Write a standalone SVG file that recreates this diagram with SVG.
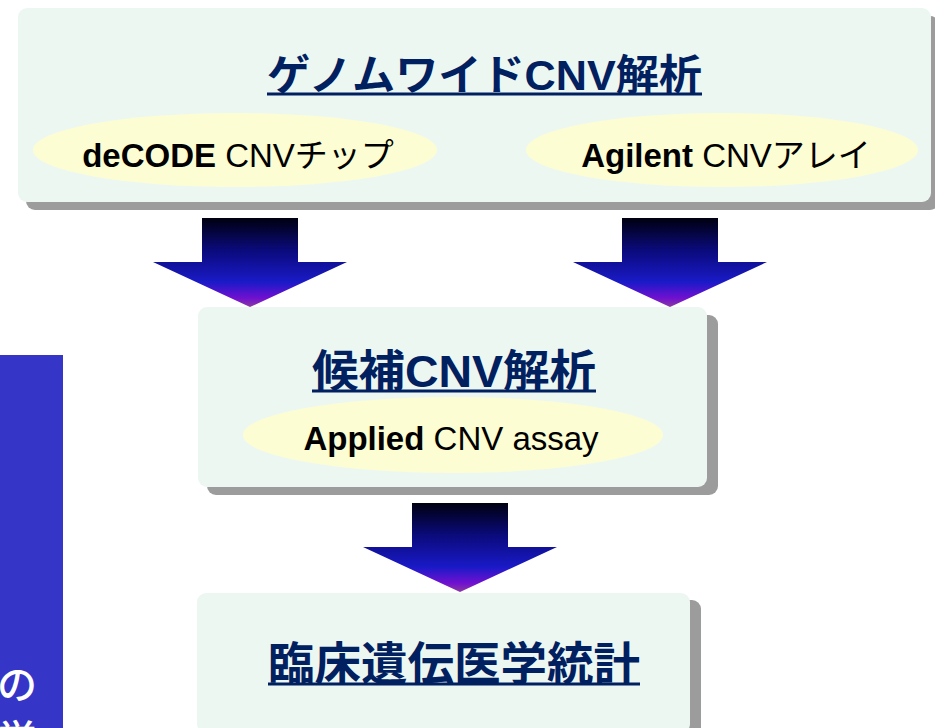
<svg xmlns="http://www.w3.org/2000/svg" width="935" height="728" viewBox="0 0 935 728">
  <defs>
    <linearGradient id="arrowGrad" x1="0" y1="0" x2="0" y2="1">
      <stop offset="0" stop-color="#000010"/>
      <stop offset="0.35" stop-color="#0a0a78"/>
      <stop offset="0.72" stop-color="#1a1ac8"/>
      <stop offset="0.9" stop-color="#7010d0"/>
      <stop offset="1" stop-color="#8a3aa0"/>
    </linearGradient>
    <style>
      .shadow { fill: #9c9c9c; }
      .box { fill: #edf7f2; }
      .oval { fill: #fdfdd3; }
      .title { font-family: "Liberation Sans", "Noto Sans CJK JP", sans-serif; font-weight: bold; fill: #002060; }
      .uline { stroke: #002060; stroke-width: 3; }
      .label { font-family: "Liberation Sans", "Noto Sans CJK JP", sans-serif; font-size: 33px; fill: #000; }
      .b { font-weight: bold; }
      .arrow { fill: url(#arrowGrad); }
      .side { font-family: "Noto Sans CJK JP", sans-serif; font-size: 40px; font-weight: 500; fill: #ffffff; }
    </style>
  </defs>

  <g id="side-panel">
    <rect x="0" y="355" width="63" height="380" fill="#3535c8"/>
    <text class="side" x="-3" y="699">の</text>
    <text class="side" x="-3" y="754">学</text>
  </g>

  <g id="node-genome">
    <rect class="shadow" x="26" y="16" width="913" height="194" rx="9"/>
    <rect class="box" x="18" y="8" width="913" height="194" rx="9"/>
    <text class="title" x="267" y="90" font-size="42" textLength="435" lengthAdjust="spacingAndGlyphs">ゲノムワイドCNV解析</text>
    <line class="uline" x1="267" y1="94" x2="702" y2="94"/>
    <g id="node-decode">
      <ellipse class="oval" cx="235" cy="150" rx="202" ry="37"/>
      <text class="label" x="238" y="167" text-anchor="middle"><tspan class="b">deCODE</tspan> CNVチップ</text>
    </g>
    <g id="node-agilent">
      <ellipse class="oval" cx="722" cy="150" rx="196" ry="37"/>
      <text class="label" x="726" y="167" text-anchor="middle"><tspan class="b">Agilent</tspan> CNVアレイ</text>
    </g>
  </g>

  <g id="node-candidate">
    <rect class="shadow" x="207" y="315" width="511" height="180" rx="9"/>
    <rect class="box" x="198" y="307" width="509" height="180" rx="9"/>
    <text class="title" x="312" y="387" font-size="44" textLength="284" lengthAdjust="spacingAndGlyphs">候補CNV解析</text>
    <line class="uline" x1="312" y1="391" x2="596" y2="391"/>
    <g id="node-applied">
      <ellipse class="oval" cx="453" cy="435" rx="210" ry="38"/>
      <text class="label" x="451" y="450" text-anchor="middle"><tspan class="b">Applied</tspan> CNV assay</text>
    </g>
  </g>

  <g id="node-clinical">
    <rect class="shadow" x="206" y="600" width="495" height="140" rx="9"/>
    <rect class="box" x="197" y="593" width="493" height="140" rx="9"/>
    <text class="title" x="268" y="680" font-size="46" textLength="372" lengthAdjust="spacingAndGlyphs">臨床遺伝医学統計</text>
    <line class="uline" x1="268" y1="684" x2="640" y2="684"/>
  </g>

  <g id="connectors">
    <polygon class="arrow" points="202,218 298,218 298,262 347,262 250,307 153,262 202,262"/>
    <polygon class="arrow" points="622,218 718,218 718,262 767,262 670,307 573,262 622,262"/>
    <polygon class="arrow" points="412,503 508,503 508,547 557,547 460,592 363,547 412,547"/>
  </g>
</svg>
